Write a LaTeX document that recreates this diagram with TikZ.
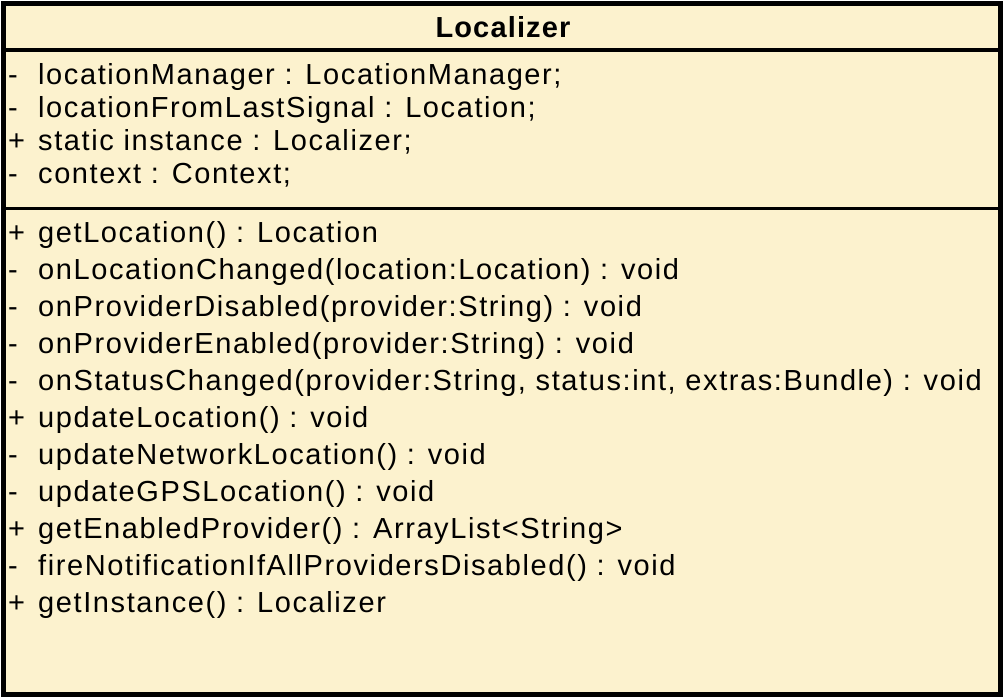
\documentclass[tikz,border=0pt]{standalone}
\usepackage{fontspec}
\setmainfont{Liberation Sans}
\newfontfamily\umlfont[LetterSpace=5.5]{Liberation Sans}
\newfontfamily\umlheadfont[LetterSpace=4]{Liberation Sans}
\usepackage{tikz}
\usetikzlibrary{positioning}
\definecolor{umlfill}{RGB}{252,242,206}

\begin{document}
\begin{tikzpicture}[x=1pt, y=-1pt]
   \useasboundingbox (0,0) rectangle (1004,697);
   % class box
   \draw[line width=5pt, fill=umlfill] (3.5,3.5) rectangle (1000.5,694.5);
   \draw[line width=3.5pt] (3.5,50) -- (1000.5,50);
   \draw[line width=3.5pt] (3.5,208.5) -- (1000.5,208.5);
   \node[font=\umlheadfont\fontsize{29}{32}\selectfont\bfseries, anchor=base] (name) at (503,37) {Localizer};
   \begin{scope}[every node/.style={anchor=base west, inner sep=0pt, font=\umlfont\fontsize{29}{32}\selectfont}]
    % attributes
    \node (a1) at (8,84) {\makebox[30pt][l]{-}locationManager : LocationManager;};
    \node (a2) at (8,117) {\makebox[30pt][l]{-}locationFromLastSignal : Location;};
    \node (a3) at (8,150) {\makebox[30pt][l]{+}static instance : Localizer;};
    \node (a4) at (8,183) {\makebox[30pt][l]{-}context : Context;};
    % methods
    \node (m1) at (8,242) {\makebox[30pt][l]{+}getLocation() : Location};
    \node (m2) at (8,279) {\makebox[30pt][l]{-}onLocationChanged(location:Location) : void};
    \node (m3) at (8,316) {\makebox[30pt][l]{-}onProviderDisabled(provider:String) : void};
    \node (m4) at (8,353) {\makebox[30pt][l]{-}onProviderEnabled(provider:String) : void};
    \node (m5) at (8,390) {\makebox[30pt][l]{-}onStatusChanged(provider:String, status:int, extras:Bundle) : void};
    \node (m6) at (8,427) {\makebox[30pt][l]{+}updateLocation() : void};
    \node (m7) at (8,464) {\makebox[30pt][l]{-}updateNetworkLocation() : void};
    \node (m8) at (8,501) {\makebox[30pt][l]{-}updateGPSLocation() : void};
    \node (m9) at (8,538) {\makebox[30pt][l]{+}getEnabledProvider() : ArrayList<String>};
    \node (m10) at (8,575) {\makebox[30pt][l]{-}fireNotificationIfAllProvidersDisabled() : void};
    \node (m11) at (8,612) {\makebox[30pt][l]{+}getInstance() : Localizer};
   \end{scope}
\end{tikzpicture}
\end{document}
